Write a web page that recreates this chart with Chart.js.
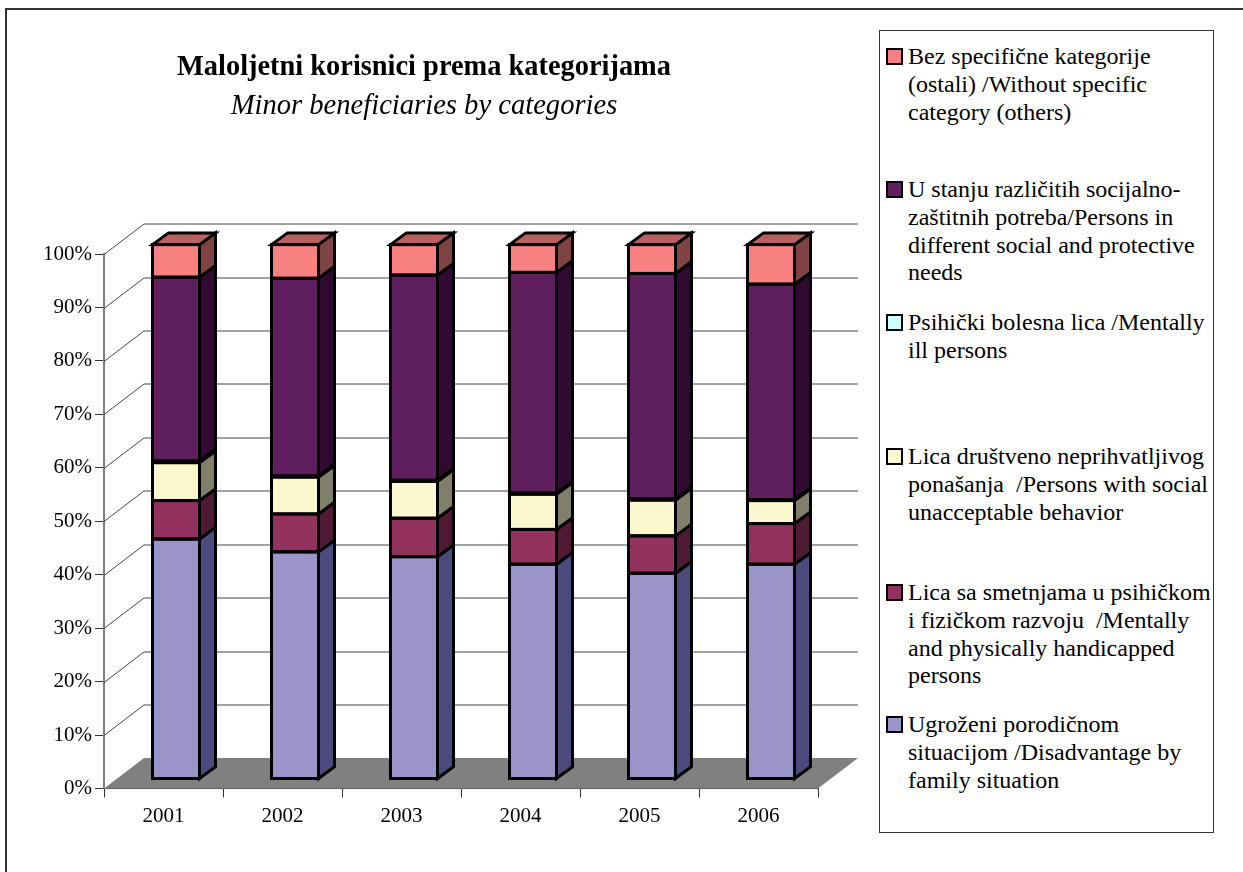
<!DOCTYPE html>
<html>
<head>
<meta charset="utf-8">
<title>Maloljetni korisnici prema kategorijama</title>
<script src="https://cdn.jsdelivr.net/npm/chart.js@4"></script>
<style>
  html, body { margin: 0; padding: 0; background: #fff; overflow: hidden; }
  #frame { position: absolute; left: 5px; top: 8px; width: 1400px; height: 1000px; border: 2px solid #333; }
  #chartBox { position: absolute; left: 30px; top: 0; width: 830px; height: 872px; }
  #legendBox { position: absolute; left: 879px; top: 30px; width: 333px; height: 801px; border: 1px solid #333; background: #fff; }
  .item { position: absolute; left: 6px; font: 24px/27.8px "Liberation Serif", serif; color: #000; white-space: pre; padding-left: 22px; }
  .swatch { position: absolute; left: 0; top: 5px; width: 13px; height: 13px; border: 2px solid #000; }
</style>
</head>
<body>
<div id="frame"></div>
<div id="chartBox"><canvas id="barchart"></canvas></div>
<div id="legendBox"></div>
<script>
const years = ['2001', '2002', '2003', '2004', '2005', '2006'];

// shares in %
const ugrozeni = [44.9, 42.5, 41.6, 40.2, 38.5, 40.2];
const smetnje = [7.2, 7.1, 7.2, 6.5, 7.0, 7.6];
const neprihvatljivo = [7.1, 6.9, 6.9, 6.6, 6.7, 4.3];
const bolesni = [0.3, 0.2, 0.2, 0.2, 0.2, 0.2];
const potrebe = [34.4, 37.0, 38.4, 41.3, 42.2, 40.3];
const ostali = [6.1, 6.3, 5.7, 5.2, 5.4, 7.4];

const seriesValues = [ugrozeni, smetnje, neprihvatljivo, bolesni, potrebe, ostali];
const frontColors = ['#9a94c9', '#93315f', '#fbf7cf', '#ccffff', '#5f1f5f', '#f78080'];
const sideColors = ['#4c4a7c', '#4f1a33', '#80806a', '#668080', '#300a30', '#7f4343'];
const topColor = '#bb6060';

const seriesLabels = [
  ['Ugroženi porodičnom', 'situacijom /Disadvantage by', 'family situation'],
  ['Lica sa smetnjama u psihičkom', 'i fizičkom razvoju  /Mentally', 'and physically handicapped', 'persons'],
  ['Lica društveno neprihvatljivog', 'ponašanja  /Persons with social', 'unacceptable behavior'],
  ['Psihički bolesna lica /Mentally', 'ill persons'],
  ['U stanju različitih socijalno-', 'zaštitnih potreba/Persons in', 'different social and protective', 'needs'],
  ['Bez specifične kategorije', '(ostali) /Without specific', 'category (others)']
];
const legendTops = [680, 548, 412, 278, 145, 12];

const fontName = '"Liberation Serif", serif';

// floor depth and the offset of the bars in the fake 3d box
const depthX = 40, depthY = 30.5;
const barOffsetX = 12.5, barOffsetY = 9.5;
const sideX = 16, sideY = 11.7;

function poly(c, pts, fill, stroke) {
  c.beginPath();
  pts.forEach((p, i) => i ? c.lineTo(p[0], p[1]) : c.moveTo(p[0], p[1]));
  c.closePath();
  if (fill) { c.fillStyle = fill; c.fill(); }
  if (stroke) { c.strokeStyle = stroke; c.lineWidth = 3; c.lineJoin = 'miter'; c.stroke(); }
}

const box3d = {
  id: 'box3d',
  beforeDatasetsDraw(chart) {
    const c = chart.ctx, a = chart.chartArea, y = chart.scales.y;
    c.save();
    // back wall lines + the diagonals on the left wall
    c.lineWidth = 1;
    y.ticks.forEach(t => {
      const py = Math.round(y.getPixelForValue(t.value)) + 0.5;
      if (t.value === 0) return;
      c.strokeStyle = '#444';
      c.beginPath();
      c.moveTo(a.left, py);
      c.lineTo(a.left + depthX, py - depthY);
      c.lineTo(a.right + depthX, py - depthY);
      c.stroke();
    });
    // floor
    poly(c, [[a.left, a.bottom], [a.left + depthX, a.bottom - depthY],
             [a.right + depthX, a.bottom - depthY], [a.right, a.bottom]], '#808080');
    // bars are drawn shifted into the box, restored in afterDatasetsDraw
    c.translate(barOffsetX, -barOffsetY);
  },
  afterDatasetsDraw(chart) {
    const c = chart.ctx;
    const last = seriesValues.length - 1;
    seriesValues.forEach((vals, ds) => {
      chart.getDatasetMeta(ds).data.forEach(bar => {
        const p = bar.getProps(['x', 'y', 'base', 'width'], true);
        const l = p.x - p.width / 2, r = p.x + p.width / 2;
        poly(c, [[r, p.y], [r + sideX, p.y - sideY], [r + sideX, p.base - sideY], [r, p.base]], sideColors[ds], '#000');
        c.strokeStyle = '#000';
        c.lineWidth = 3;
        c.strokeRect(l, p.y, p.width, p.base - p.y);
        if (ds === last) {
          poly(c, [[l, p.y], [l + sideX, p.y - sideY], [r + sideX, p.y - sideY], [r, p.y]], topColor, '#000');
        }
      });
    });
    c.restore();
  }
};

const ctx = document.getElementById('barchart');

new Chart(ctx, {
  type: 'bar',
  plugins: [box3d],
  data: {
    labels: years,
    datasets: seriesValues.map((vals, i) => ({
      label: seriesLabels[i].join(' '),
      data: vals,
      backgroundColor: frontColors[i],
      borderWidth: 0,
      barPercentage: 47 / 119,
      categoryPercentage: 1,
      clip: false
    }))
  },
  options: {
    responsive: true,
    maintainAspectRatio: false,
    animation: false,
    layout: { padding: { left: 0, right: 42, top: 0, bottom: 0 } },
    plugins: {
      legend: { display: false },
      tooltip: { enabled: false },
      title: {
        display: true,
        text: 'Maloljetni korisnici prema kategorijama',
        color: '#000',
        font: { family: fontName, size: 28.4, weight: 'bold' },
        padding: { top: 51, bottom: 4.7 }
      },
      subtitle: {
        display: true,
        text: 'Minor beneficiaries by categories',
        color: '#000',
        font: { family: fontName, size: 28.6, style: 'italic' },
        padding: { top: 0, bottom: 130 }
      }
    },
    scales: {
      x: {
        stacked: true,
        afterFit(s) { s.height = 83.5; },
        grid: { drawOnChartArea: false, tickLength: 9, tickColor: '#333' },
        border: { color: '#444', width: 1 },
        ticks: { color: '#000', padding: 6, maxRotation: 0, font: { family: fontName, size: 21 } }
      },
      y: {
        stacked: true,
        min: 0,
        max: 100,
        afterFit(s) { s.width = 74; },
        grid: { drawOnChartArea: false, tickLength: 9, tickColor: '#333' },
        border: { color: '#808080', width: 2 },
        ticks: {
          color: '#000',
          stepSize: 10,
          padding: 3,
          font: { family: fontName, size: 21 },
          callback: v => v + '%'
        }
      }
    }
  }
});

// legend with fixed line breaks, top entry is the last series
const legendBox = document.getElementById('legendBox');
seriesLabels.forEach((lines, i) => {
  const item = document.createElement('div');
  item.className = 'item';
  item.style.top = legendTops[i] + 'px';
  item.textContent = lines.join('\n');
  const sw = document.createElement('div');
  sw.className = 'swatch';
  sw.style.background = frontColors[i];
  item.appendChild(sw);
  legendBox.appendChild(item);
});
</script>
</body>
</html>
